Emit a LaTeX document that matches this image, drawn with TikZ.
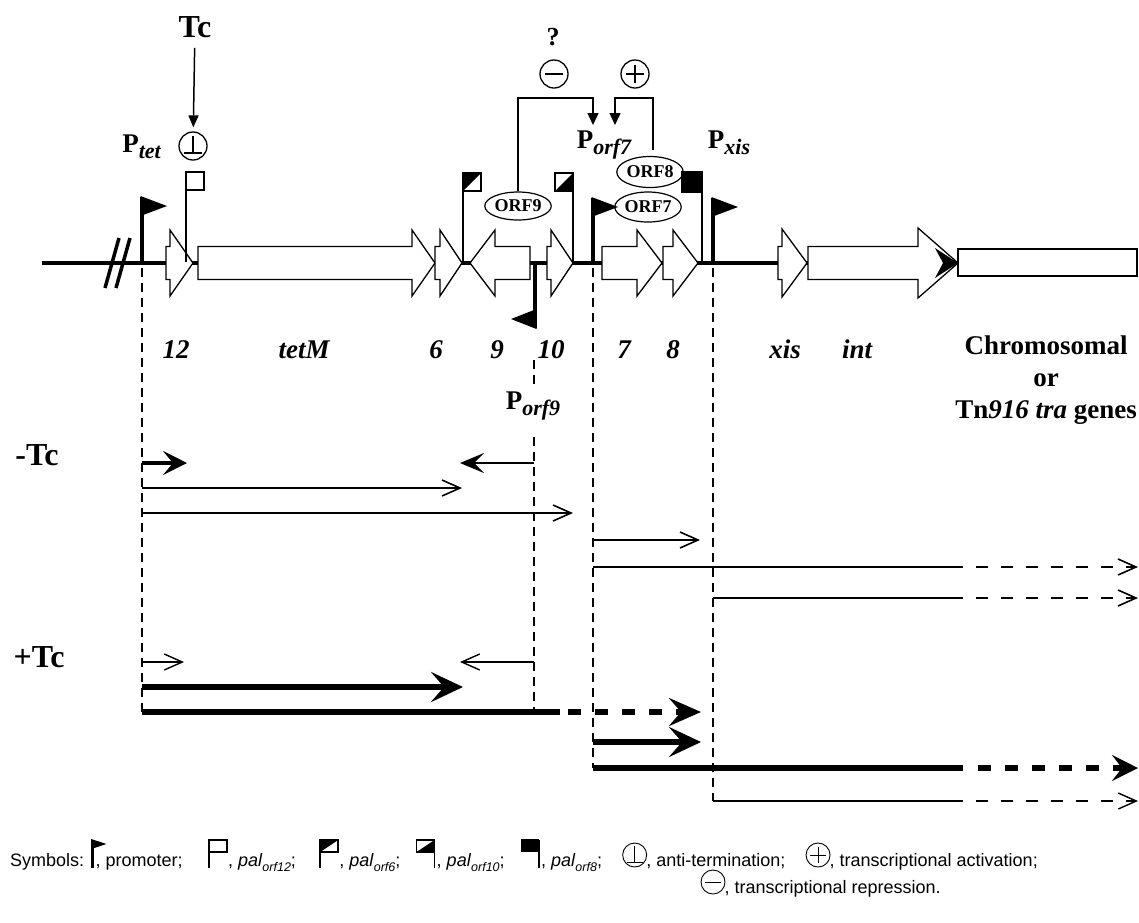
\documentclass[tikz,border=0pt]{standalone}
\usepackage{fontspec}
\setmainfont{Liberation Serif}
\newfontfamily\legfont{Liberation Sans}
\usetikzlibrary{arrows.meta,shapes.geometric}
\newcommand{\drawgene}[5]{\draw[gene] (#1,{263-#4}) -- (#2,{263-#4}) -- (#2,{263-#5}) -- (#3,263) -- (#2,{263+#5}) -- (#2,{263+#4}) -- (#1,{263+#4}) -- cycle;}
\newcommand{\psub}[1]{\raisebox{-0.25em}{\fontsize{22}{22}\selectfont\bfseries\itshape #1}}
\newcommand{\lsub}[1]{\raisebox{-0.3em}{\fontsize{12.5}{12.5}\selectfont\itshape #1}}
\begin{document}
\begin{tikzpicture}[x=1pt,y=-1pt,line join=miter,
  gene/.style={draw,fill=white,line width=1.3pt},
  bb/.style={line width=4pt},
  pstem/.style={line width=3.5pt},
  fstem/.style={line width=1.8pt},
  vdash/.style={line width=1.6pt,dash pattern=on 9pt off 6pt},
  bigt/.style={font=\fontsize{32}{34}\selectfont\bfseries,inner sep=0pt},
  glab/.style={font=\fontsize{27}{29}\selectfont\bfseries\itshape,inner sep=0pt,anchor=base},
  plab/.style={font=\fontsize{27}{29}\selectfont\bfseries,inner sep=0pt,anchor=base},
  orfnode/.style={ellipse,draw,line width=1.2pt,inner sep=0pt,font=\fontsize{18}{18}\selectfont\bfseries},
  csym/.style={circle,draw,line width=1.3pt,minimum size=28pt,inner sep=0pt},
  reg/.style={line width=1.4pt,-{Triangle[length=12pt,width=11pt]}},
  thinr/.style={line width=1.6pt,-{Straight Barb[length=18pt,width=16pt]}},
  thinl/.style={line width=1.4pt,-{Straight Barb[length=18pt,width=16pt]}},
  thickr/.style={line width=5.5pt,-{Stealth[length=32pt,width=30pt,inset=13pt]}},
  vthick/.style={line width=6.5pt},
  tdash/.style={dash pattern=on 12pt off 13pt},
  Tdash/.style={dash pattern=on 13pt off 14pt},
  leg/.style={anchor=base west,inner sep=0pt,font=\legfont\fontsize{18}{20}\selectfont},
  lsym/.style={circle,draw,line width=0.9pt,minimum size=24pt,inner sep=0pt}
]
\useasboundingbox (0,0) rectangle (1139,922);

% ---------- backbone ----------
\draw[bb] (42,263) -- (958,263);
\draw[line width=3.5pt] (105,288) -- (119,238);
\draw[line width=3.5pt] (116,288) -- (130,238);

% ---------- genes ----------
\drawgene{166}{170}{193}{16.5}{33}
\drawgene{198}{412}{435}{16.5}{33}
\drawgene{435}{440}{462}{16.5}{33}
\drawgene{530}{495}{470}{16.5}{33}
\drawgene{547}{551}{573}{16.5}{33}
\drawgene{602}{637}{662}{16.5}{33}
\drawgene{663}{673}{698}{16.5}{33}
\drawgene{778}{782}{807}{16.5}{34}
\drawgene{808}{918}{958}{16.5}{35}
\fill (958,263) -- (935,248) -- (943,263) -- (935,278) -- cycle;
\draw[gene] (958,249) rectangle (1137,276);

% ---------- promoters ----------
\draw[pstem] (142,263) -- (142,197);
\fill (140.5,196) -- (167,206) -- (140.5,216) -- cycle;
\draw[pstem] (593,263) -- (593,198);
\fill (591.5,197) -- (618,207) -- (591.5,217) -- cycle;
\draw[pstem] (713,263) -- (713,198);
\fill (711.5,197) -- (738,207) -- (711.5,217) -- cycle;
\draw[pstem] (535,263) -- (535,328);
\fill (536.5,309) -- (511,319) -- (536.5,329) -- cycle;

% ---------- pal flags ----------
\draw[fstem] (186,262) -- (186,190);
\draw[line width=1.5pt,fill=white] (186,172) rectangle (204,190);
\draw[fstem] (463,262) -- (463,191);
\draw[line width=1.5pt,fill=white] (463,173) rectangle (481,191);
\fill (463,173) -- (481,173) -- (463,191) -- cycle;
\draw[fstem] (573,262) -- (573,191);
\draw[line width=1.5pt,fill=white] (555,173) rectangle (573,191);
\fill (573,173) -- (573,191) -- (555,191) -- cycle;
\draw[fstem] (702,262) -- (702,192);
\draw[line width=1.5pt,fill=black] (682,172) rectangle (702,192);

% ---------- top labels and regulation ----------
\node[bigt] (tcl) at (195,27) {Tc};
\node[csym] (anti) at (193,146) {};
\draw[line width=1.3pt] (193,136) -- (193,153);
\draw[line width=1.3pt] (184,153) -- (202,153);
\draw[line width=1.5pt,-{Triangle[length=12pt,width=10pt]},shorten <=10pt,shorten >=4pt] (tcl) -- (anti);
\node[plab,anchor=base east] (ptet) at (161,152) {P\psub{tet}};

\node[orfnode,minimum width=65pt,minimum height=28pt] (orf9) at (518,206) {ORF9};
\node[orfnode,minimum width=57pt,minimum height=30pt] (orf7) at (648,207) {ORF7};
\node[orfnode,minimum width=55pt,minimum height=31pt] (orf8) at (650,172) {ORF8};

\node[csym] (minus) at (554,74) {};
\draw[line width=1.3pt] (545,74) -- (563,74);
\node[csym] (plus) at (635,74) {};
\draw[line width=1.3pt] (626,74) -- (644,74);
\draw[line width=1.3pt] (635,65) -- (635,83);
\node[bigt,font=\fontsize{26}{28}\selectfont\bfseries] (qm) at (553,37) {?};

\coordinate (rept) at (593,98);
\coordinate (rep) at (593,125);
\coordinate (actt) at (615,98);
\coordinate (act) at (615,125);
\coordinate (o8top) at (653,150);
\draw[reg] (orf9.north) |- (rept) -- (rep);
\draw[reg] (o8top) |- (actt) -- (act);

\node[plab] (porf7) at (604,148) {P\psub{orf7}};
\node[plab] (pxis) at (729,148) {P\psub{xis}};
\node[plab] (porf9) at (533,409) {P\psub{orf9}};

% ---------- gene labels ----------
\node[glab] (l12) at (176,358) {12};
\node[glab] (ltet) at (304,358) {tetM};
\node[glab] (l6) at (436,358) {6};
\node[glab] (l9) at (497,358) {9};
\node[glab] (l10) at (551,358) {10};
\node[glab] (l7) at (624,358) {7};
\node[glab] (l8) at (673,358) {8};
\node[glab] (lxis) at (785,358) {xis};
\node[glab] (lint) at (857,358) {int};
\node[align=center,inner sep=0pt,font=\fontsize{27}{32}\selectfont\bfseries] (chrom) at (1046,380)
  {Chromosomal\\or\\Tn\textit{916 tra} genes};

\node[bigt] (mtc) at (37,455) {-Tc};
\node[bigt] (ptc) at (39,657) {+Tc};

% ---------- dashed guides ----------
\draw[vdash] (142,268) -- (142,712);
\draw[vdash] (534,360) -- (534,386);
\draw[vdash] (534,437) -- (534,712);
\draw[vdash] (593,268) -- (593,768);
\draw[vdash] (713,268) -- (713,801);

% ---------- transcripts -Tc ----------
\draw[line width=4.5pt,-{Stealth[length=24pt,width=24pt,inset=10pt]}] (142,463) -- (187,463);
\draw[line width=2.7pt,-{Stealth[length=24pt,width=20pt,inset=10pt]}] (534,463) -- (460,463);
\draw[thinr] (142,488) -- (462,488);
\draw[thinr] (142,513) -- (573,513);
\draw[thinr] (593,540) -- (700,540);
\draw[line width=1.6pt] (593,567) -- (963,567);
\draw[thinr,tdash] (976,567) -- (1138,567);
\draw[line width=1.6pt] (713,598) -- (963,598);
\draw[thinr,tdash] (976,598) -- (1138,598);

% ---------- transcripts +Tc ----------
\draw[thinl] (142,662) -- (184,662);
\draw[thinl] (534,662) -- (460,662);
\draw[thickr] (142,687) -- (463,687);
\draw[vthick] (142,712) -- (560,712);
\draw[vthick,Tdash,-{Stealth[length=32pt,width=28pt,inset=12pt]}] (568,712) -- (701,712);
\draw[thickr] (593,742) -- (701,742);
\draw[vthick] (593,768) -- (963,768);
\draw[vthick,Tdash,-{Stealth[length=26pt,width=26pt,inset=10pt]}] (978,768) -- (1138,768);
\draw[line width=1.4pt] (713,801) -- (963,801);
\draw[thinl,tdash] (976,801) -- (1138,801);

% ---------- legend ----------
\node[leg] (g0) at (10,866) {Symbols:};
\coordinate (k1) at ([xshift=8pt]g0.base east);
\begin{scope}[shift={(k1)}]
  \draw[line width=2.5pt] (0,2) -- (0,-26);
  \fill (-1.2,-27) -- (14,-22) -- (-1.2,-17) -- cycle;
\end{scope}
\node[leg] (g1) at ([xshift=3pt]k1) {, promoter;};
\coordinate (k2) at ([xshift=26pt]g1.base east);
\begin{scope}[shift={(k2)}]
  \draw[line width=1.8pt] (0,2) -- (0,-26);
  \draw[line width=1.4pt] (0,-26) rectangle (18,-14);
\end{scope}
\node[leg] (g2) at ([xshift=19pt]k2) {, \textit{pal}\lsub{orf12};};
\coordinate (k3) at ([xshift=24pt]g2.base east);
\begin{scope}[shift={(k3)}]
  \draw[line width=1.8pt] (0,2) -- (0,-26);
  \draw[line width=1.4pt] (0,-26) rectangle (18,-14);
  \fill (0,-26) -- (18,-26) -- (0,-14) -- cycle;
\end{scope}
\node[leg] (g3) at ([xshift=19pt]k3) {, \textit{pal}\lsub{orf6};};
\coordinate (k4) at ([xshift=34pt]g3.base east);
\begin{scope}[shift={(k4)}]
  \draw[line width=1.8pt] (0,2) -- (0,-26);
  \draw[line width=1.4pt] (-18,-26) rectangle (0,-14);
  \fill (0,-26) -- (0,-14) -- (-18,-14) -- cycle;
\end{scope}
\node[leg] (g4) at ([xshift=2pt]k4) {, \textit{pal}\lsub{orf10};};
\coordinate (k5) at ([xshift=34pt]g4.base east);
\begin{scope}[shift={(k5)}]
  \draw[line width=1.8pt] (0,2) -- (0,-26);
  \fill (-18,-27) rectangle (0,-14);
\end{scope}
\node[leg] (g5) at ([xshift=2pt]k5) {, \textit{pal}\lsub{orf8};};
\node[lsym,anchor=west] (s1) at ([xshift=20pt,yshift=11pt]g5.base east) {};
\draw[line width=0.9pt] (s1.center) ++(0,-9) -- ++(0,16);
\draw[line width=0.9pt] (s1.center) ++(-8,7) -- ++(16,0);
\node[leg] (g6) at ([xshift=-1pt]s1.east |- g5.base) {, anti-termination;};
\node[lsym,anchor=west] (s2) at ([xshift=20pt,yshift=11pt]g6.base east) {};
\draw[line width=0.9pt] (s2.center) ++(-8,0) -- ++(16,0);
\draw[line width=0.9pt] (s2.center) ++(0,-8) -- ++(0,16);
\node[leg] (g7) at ([xshift=-1pt]s2.east |- g6.base) {, transcriptional activation;};
\node[lsym] (s3) at (713,882) {};
\draw[line width=0.9pt] (s3.center) ++(-8,0) -- ++(16,0);
\node[leg] (g8) at ([xshift=-1pt,yshift=-11pt]s3.east) {, transcriptional repression.};
\end{tikzpicture}
\end{document}
